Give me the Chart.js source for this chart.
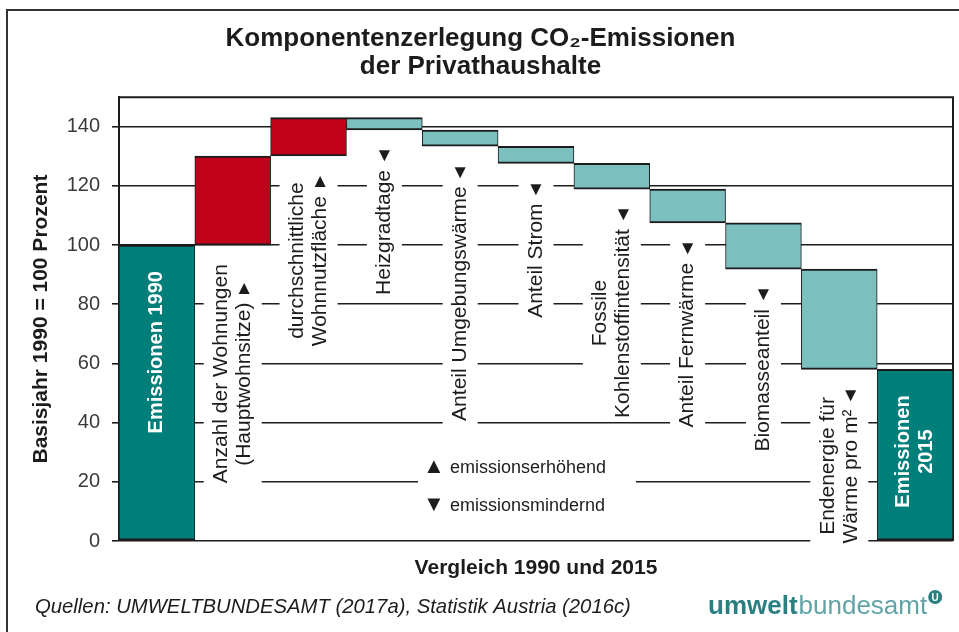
<!DOCTYPE html>
<html>
<head>
<meta charset="utf-8">
<title>Komponentenzerlegung CO2-Emissionen der Privathaushalte</title>
<script src="https://cdn.jsdelivr.net/npm/chart.js@4.4.1/dist/chart.umd.min.js"></script>
<style>
  html, body { margin: 0; padding: 0; background: #fff; }
  #wrap { position: relative; width: 959px; height: 632px; }
</style>
</head>
<body>
<div id="wrap"><canvas id="chart" width="959" height="632"></canvas></div>
<script>
// categories, one entry per bar (lines of the rotated label)
const categories = [
  ['Emissionen 1990'],
  ['Anzahl der Wohnungen', '(Hauptwohnsitze)'],
  ['durchschnittliche', 'Wohnnutzfläche'],
  ['Heizgradtage'],
  ['Anteil Umgebungswärme'],
  ['Anteil Strom'],
  ['Fossile', 'Kohlenstoffintensität'],
  ['Anteil Fernwärme'],
  ['Biomasseanteil'],
  ['Endenergie für', 'Wärme pro m²'],
  ['Emissionen', '2015']
];
const emissions1990 = 100;
// level reached after each component (Basisjahr 1990 = 100)
const levels = [130.1, 143.1, 138.9, 133.4, 127.6, 118.9, 107.5, 91.9, 58.0];
const emissions2015 = 58.0;
const yTicks = [0, 20, 40, 60, 80, 100, 120, 140];
const legendItems = [['▲', 'emissionserhöhend'], ['▼', 'emissionsmindernd']];

const FONT = '"Liberation Sans", Arial, sans-serif';
const INK = '#1c1c1c';

// floating bars: [start, end]
const barData = [[0, emissions1990]];
let prev = emissions1990;
levels.forEach(v => { barData.push([prev, v]); prev = v; });
barData.push([0, emissions2015]);

const lastIdx = barData.length - 1;
const isTotal = i => i === 0 || i === lastIdx;
const barColors = barData.map((d, i) =>
  isTotal(i) ? '#007e7a' : (d[1] > d[0] ? '#c1001a' : '#7bbfbf'));

// rotated text block, reading bottom to top, its upper end at topY;
// an optional upright arrow closes the last line
function drawRotatedBlock(ctx, lines, cx, topY, o) {
  ctx.save();
  ctx.font = o.font;
  const n = lines.length;
  const arrowLen = o.arrow ? 21 : 0;
  const lw = lines.map((l, j) => ctx.measureText(l).width + (j === n - 1 ? arrowLen : 0));
  const w = Math.max(...lw);
  const lineY = j => (j - (n - 1) / 2) * o.lineGap;
  ctx.translate(cx, topY);
  ctx.rotate(-Math.PI / 2);
  if (o.background) {
    const half = (n - 1) / 2 * o.lineGap + o.size * 0.5 + 7;
    ctx.fillStyle = o.background;
    ctx.fillRect(-w - 4, -half, w + 8, half * 2);
  }
  ctx.fillStyle = o.color;
  ctx.textAlign = 'left';
  ctx.textBaseline = 'middle';
  lines.forEach((l, j) => ctx.fillText(l, -w / 2 - lw[j] / 2, lineY(j)));
  ctx.restore();
  if (o.arrow) {
    // local (lx, ly) -> screen (cx + ly, topY - lx)
    const lx = -w / 2 + lw[n - 1] / 2 - 7;
    ctx.save();
    ctx.fillStyle = o.color;
    ctx.font = '19px ' + FONT;
    ctx.textAlign = 'center';
    ctx.textBaseline = 'middle';
    ctx.fillText(o.arrow, cx + lineY(n - 1), topY - lx);
    ctx.restore();
  }
}

const waterfallDecor = {
  id: 'waterfallDecor',
  beforeDraw(chart) {
    const { ctx, width, height } = chart;
    ctx.save();
    ctx.fillStyle = '#fff';
    ctx.fillRect(0, 0, width, height);
    ctx.restore();
  },
  beforeDatasetsDraw(chart) {
    // top and right edge of the plot frame
    const { ctx, chartArea: a } = chart;
    ctx.save();
    ctx.strokeStyle = INK;
    ctx.lineWidth = 2;
    ctx.beginPath();
    ctx.moveTo(a.left, a.top);
    ctx.lineTo(a.right, a.top);
    ctx.lineTo(a.right, a.bottom);
    ctx.stroke();
    ctx.restore();
  },
  afterDatasetsDraw(chart) {
    const { ctx, chartArea: a } = chart;
    const bars = chart.getDatasetMeta(0).data;
    const y = chart.scales.y;

    bars.forEach((el, i) => {
      const lo = Math.max(el.y, el.base);
      const hi = Math.min(el.y, el.base);
      if (isTotal(i)) {
        drawRotatedBlock(ctx, categories[i], el.x, hi + 26, {
          font: 'bold 20px ' + FONT, size: 20, lineGap: 23, color: '#fff'
        });
      } else {
        const d = barData[i];
        drawRotatedBlock(ctx, categories[i], el.x, lo + 19, {
          font: '21px ' + FONT, size: 21, lineGap: 23, color: INK, background: '#fff',
          arrow: d[1] > d[0] ? '▲' : '▼'
        });
      }
    });

    // legend for the arrows
    const ly = y.getPixelForValue(20);
    const lx = a.left + 300;
    ctx.save();
    ctx.fillStyle = '#fff';
    ctx.fillRect(lx - 1, ly - 30, 218, 62);
    ctx.fillStyle = INK;
    ctx.textBaseline = 'middle';
    legendItems.forEach(([sym, t], j) => {
      const ty = ly - 15 + j * 38;
      ctx.font = '22px ' + FONT;
      ctx.textAlign = 'center';
      ctx.fillText(sym, lx + 15, ty);
      ctx.font = '18px ' + FONT;
      ctx.textAlign = 'left';
      ctx.fillText(t, lx + 31, ty + 1);
    });
    ctx.restore();
  },
  afterDraw(chart) {
    const { ctx } = chart;
    ctx.save();
    // outer frame
    ctx.strokeStyle = '#333';
    ctx.lineWidth = 2;
    ctx.beginPath();
    ctx.moveTo(7, 640);
    ctx.lineTo(7, 10);
    ctx.lineTo(970, 10);
    ctx.stroke();

    // source
    ctx.fillStyle = INK;
    ctx.font = 'italic 20.3px ' + FONT;
    ctx.textBaseline = 'middle';
    ctx.fillText('Quellen: UMWELTBUNDESAMT (2017a), Statistik Austria (2016c)', 35, 607);

    // logo
    ctx.font = 'bold 26px ' + FONT;
    ctx.fillStyle = '#2a7f80';
    ctx.fillText('umwelt', 708, 607);
    const w1 = ctx.measureText('umwelt').width;
    ctx.font = '26px ' + FONT;
    ctx.fillStyle = '#62a4a6';
    ctx.fillText('bundesamt', 708 + w1 + 1, 607);
    const w2 = ctx.measureText('bundesamt').width;
    const cx = 708 + w1 + w2 + 9, cy = 597;
    ctx.fillStyle = '#2a7f80';
    ctx.beginPath();
    ctx.arc(cx, cy, 7, 0, Math.PI * 2);
    ctx.fill();
    ctx.fillStyle = '#fff';
    ctx.font = 'bold 10px ' + FONT;
    ctx.textAlign = 'center';
    ctx.fillText('U', cx, cy + 1);
    ctx.restore();
  }
};

new Chart(document.getElementById('chart'), {
  type: 'bar',
  data: {
    labels: categories.map(c => c.join(' ')),
    datasets: [{
      data: barData,
      backgroundColor: barColors,
      borderColor: INK,
      borderWidth: { top: 2, bottom: 2, left: 1, right: 1 },
      borderSkipped: false,
      barPercentage: 1,
      categoryPercentage: 1
    }]
  },
  options: {
    responsive: false,
    animation: false,
    devicePixelRatio: 1,
    layout: { padding: { left: 8, right: 6, top: 0, bottom: 51 } },
    plugins: {
      legend: { display: false },
      tooltip: { enabled: false },
      title: {
        display: true,
        text: ['Komponentenzerlegung CO₂-Emissionen', 'der Privathaushalte'],
        color: INK,
        font: { family: FONT, size: 26, weight: 'bold', lineHeight: 1.08 },
        padding: { top: 25, bottom: 16 }
      }
    },
    scales: {
      x: {
        grid: { display: false },
        border: { display: false },
        ticks: { display: false },
        title: {
          display: true,
          text: 'Vergleich 1990 und 2015',
          color: INK,
          font: { family: FONT, size: 21, weight: 'bold' },
          padding: { top: 0, bottom: 0 }
        },
        afterFit: s => { s.height = 40; }
      },
      y: {
        min: 0,
        max: 150,
        afterBuildTicks: s => { s.ticks = yTicks.map(v => ({ value: v })); },
        ticks: { color: '#3a3a3a', font: { family: FONT, size: 20 }, padding: 12 },
        grid: { color: INK, lineWidth: 1.6, tickLength: 7 },
        border: { color: INK, width: 2 },
        title: {
          display: true,
          text: 'Basisjahr 1990 = 100 Prozent',
          color: INK,
          font: { family: FONT, size: 21, weight: 'bold' },
          padding: { top: 21, bottom: 0 }
        },
        afterFit: s => { s.width = 111; }
      }
    }
  },
  plugins: [waterfallDecor]
});
</script>
</body>
</html>
